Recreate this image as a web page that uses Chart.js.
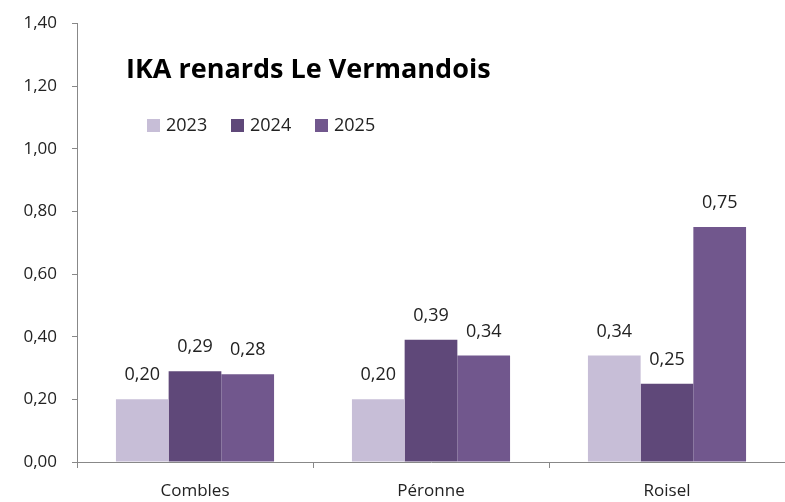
<!DOCTYPE html>
<html>
<head>
<meta charset="utf-8">
<script src="https://cdn.jsdelivr.net/npm/chart.js@4"></script>
<style>
  html, body { margin: 0; padding: 0; background: #fff; }
  #wrap { width: 785px; height: 502px; }
</style>
</head>
<body>
<div id="wrap"><canvas id="chart"></canvas></div>
<script>
// chart data
const categories = ['Combles', 'Péronne', 'Roisel'];
const years = ['2023', '2024', '2025'];
const values2023 = [0.20, 0.20, 0.34];
const values2024 = [0.29, 0.39, 0.25];
const values2025 = [0.28, 0.34, 0.75];
const colors = ['#c7bed7', '#5f4879', '#71578d'];
const chartTitle = 'IKA renards Le Vermandois';

const FONT = "'Open Sans', sans-serif";

function fmt(v) {
    return v.toFixed(2).replace('.', ',');
}

// title, legend and value labels drawn inside the plot
const overlayPlugin = {
    id: 'overlay',
    afterDatasetsDraw(chart) {
        const ctx = chart.ctx;
        ctx.save();

        // value labels above bars
        ctx.font = '18px ' + FONT;
        ctx.fillStyle = '#222';
        ctx.textAlign = 'center';
        ctx.textBaseline = 'middle';
        chart.data.datasets.forEach((ds, i) => {
            chart.getDatasetMeta(i).data.forEach((bar, j) => {
                ctx.fillText(fmt(ds.data[j]), bar.x, bar.y - 24);
            });
        });

        // title
        ctx.font = 'bold 27px ' + FONT;
        ctx.textAlign = 'left';
        ctx.fillStyle = '#000';
        ctx.fillText(chartTitle, 126, 70);

        // legend
        ctx.font = '18px ' + FONT;
        let x = 147;
        chart.data.datasets.forEach(ds => {
            ctx.fillStyle = ds.backgroundColor;
            ctx.fillRect(x, 119, 13, 13);
            ctx.fillStyle = '#222';
            ctx.fillText(ds.label, x + 19, 126);
            x += 84;
        });
        ctx.restore();
    }
};

const ctx = document.getElementById('chart').getContext('2d');
new Chart(ctx, {
    type: 'bar',
    data: {
        labels: categories,
        datasets: [
            { label: years[0], data: values2023, backgroundColor: colors[0] },
            { label: years[1], data: values2024, backgroundColor: colors[1] },
            { label: years[2], data: values2025, backgroundColor: colors[2] }
        ]
    },
    options: {
        responsive: true,
        maintainAspectRatio: false,
        animation: false,
        layout: { padding: { top: 12, right: 0, left: 0, bottom: 0 } },
        categoryPercentage: 0.67,
        barPercentage: 1.0,
        scales: {
            y: {
                min: 0,
                max: 1.4,
                ticks: {
                    stepSize: 0.2,
                    color: '#222',
                    font: { family: FONT, size: 17, lineHeight: 1 },
                    padding: 15,
                    callback: v => fmt(v)
                },
                grid: {
                    drawOnChartArea: false,
                    drawTicks: true,
                    tickLength: 5,
                    color: '#888'
                },
                border: { color: '#888', width: 1 },
                afterFit: s => { s.width = 77; }
            },
            x: {
                ticks: {
                    color: '#222',
                    font: { family: FONT, size: 17 },
                    padding: 13
                },
                grid: {
                    offset: true,
                    drawOnChartArea: false,
                    drawTicks: true,
                    tickLength: 6,
                    color: '#888'
                },
                border: { color: '#888', width: 1 },
                afterFit: s => { s.height = 40; }
            }
        },
        plugins: {
            legend: { display: false },
            title: { display: false },
            tooltip: { enabled: false }
        }
    },
    plugins: [overlayPlugin]
});
</script>
</body>
</html>
